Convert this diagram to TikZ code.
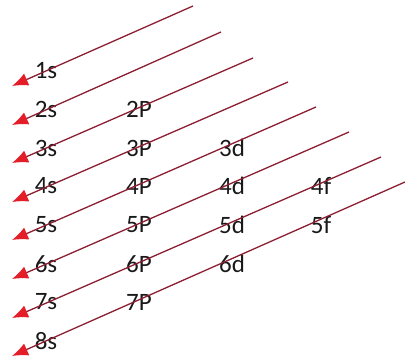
\documentclass[tikz,border=0pt]{standalone}
\usepackage{fontspec}
\setmainfont{Carlito}
\usetikzlibrary{arrows.meta}
\definecolor{lineRed}{RGB}{140,30,50}
\definecolor{tipRed}{RGB}{228,30,40}
\begin{document}
\begin{tikzpicture}[x=1pt,y=-1pt,
  lbl/.style={font=\fontsize{25}{25}\selectfont, inner sep=0pt, text=black!90},
  diag/.style={draw=lineRed, line width=1.3pt, -{Latex[length=16pt,width=13pt,color=tipRed]}}]
\useasboundingbox (0,0) rectangle (405,361);
% labels
\node[lbl] (s1) at (46,71) {1s};
\node[lbl] (s2) at (46,109) {2s};
\node[lbl] (s3) at (46,148) {3s};
\node[lbl] (s4) at (46,186) {4s};
\node[lbl] (s5) at (46,225) {5s};
\node[lbl] (s6) at (46,264) {6s};
\node[lbl] (s7) at (46,302) {7s};
\node[lbl] (s8) at (46,341) {8s};
\node[lbl] (p2) at (139,109) {2P};
\node[lbl] (p3) at (139,148) {3P};
\node[lbl] (p4) at (139,186) {4P};
\node[lbl] (p5) at (139,225) {5P};
\node[lbl] (p6) at (139,264) {6P};
\node[lbl] (p7) at (139,302) {7P};
\node[lbl] (d3) at (232,148) {3d};
\node[lbl] (d4) at (232,186) {4d};
\node[lbl] (d5) at (232,225) {5d};
\node[lbl] (d6) at (232,264) {6d};
\node[lbl] (f4) at (321,186) {4f};
\node[lbl] (f5) at (321,225) {5f};
% arrow ends
\coordinate (a1) at (193,6);   \coordinate (t1) at (12,86);
\coordinate (a2) at (221,32);  \coordinate (t2) at (12,125);
\coordinate (a3) at (253,58);  \coordinate (t3) at (12,163);
\coordinate (a4) at (288,82);  \coordinate (t4) at (12,202);
\coordinate (a5) at (316,107); \coordinate (t5) at (12,240);
\coordinate (a6) at (349,132); \coordinate (t6) at (12,279);
\coordinate (a7) at (381,157); \coordinate (t7) at (12,318);
\coordinate (a8) at (405,182); \coordinate (t8) at (12,356);
\foreach \i in {1,...,8} {\draw[diag] (a\i) -- (t\i);}
\end{tikzpicture}
\end{document}
